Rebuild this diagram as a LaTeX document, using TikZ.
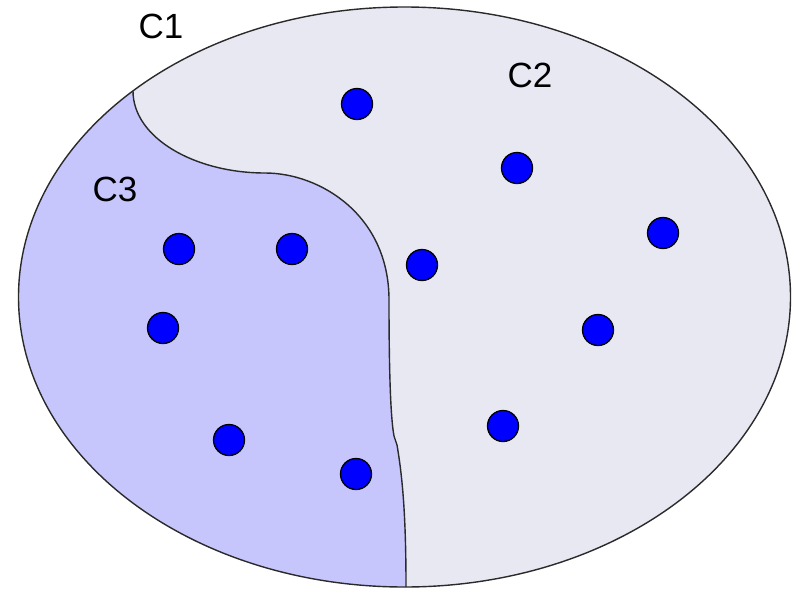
\documentclass[tikz,border=0pt]{standalone}
\usepackage{fontspec}
\setmainfont{Liberation Sans}
\definecolor{cTwo}{HTML}{E8E8F3}
\definecolor{cThree}{HTML}{C6C6FD}
\definecolor{edge}{HTML}{2A2A2A}
\begin{document}
\begin{tikzpicture}[x=1pt,y=-1pt,
  dot/.style={circle,fill=blue,draw=black,line width=1.3pt,minimum size=31pt,inner sep=0pt},
  lbl/.style={font=\fontsize{35}{40}\selectfont,inner sep=0pt},
  border/.style={draw=edge,line width=1.4pt}]
\useasboundingbox (0,0) rectangle (797,589);
% C1 ellipse filled with C2 colour
\fill[cTwo] (404.5,297) ellipse [x radius=386, y radius=290];
% C3 region
\begin{scope}
  \clip (404.5,297) ellipse [x radius=386, y radius=290];
  \fill[cThree] (133,-10) -- (133,91)
    .. controls (133,138) and (195,173) .. (265,173)
    .. controls (320,173) and (389,215) .. (389,300)
    .. controls (389,380) and (391,420) .. (394,436)
    -- (397,445)
    .. controls (403,480) and (406,520) .. (406,600)
    -- (-10,600) -- (-10,-10) -- cycle;
\end{scope}
% divider
\coordinate (s) at (133,91);
\coordinate (e) at (406,587);
\draw[border] (s)
    .. controls (133,138) and (195,173) .. (265,173)
    .. controls (320,173) and (389,215) .. (389,300)
    .. controls (389,380) and (391,420) .. (394,436)
    -- (397,445)
    .. controls (403,480) and (406,520) .. (e);
% outer ellipse
\draw[border] (404.5,297) ellipse [x radius=386, y radius=290];
% dots
\node[dot] (d1) at (357,104) {};
\node[dot] (d2) at (517,168) {};
\node[dot] (d3) at (663,233) {};
\node[dot] (d4) at (422,265) {};
\node[dot] (d5) at (598,330) {};
\node[dot] (d6) at (503,426) {};
\node[dot] (d7) at (179,249) {};
\node[dot] (d8) at (292,249) {};
\node[dot] (d9) at (163,328) {};
\node[dot] (d10) at (229,440) {};
\node[dot] (d11) at (356,474) {};
% labels
\node[lbl] (c1) at (161,26) {C1};
\node[lbl] (c2) at (530,75) {C2};
\node[lbl] (c3) at (115,189) {C3};
\end{tikzpicture}
\end{document}
